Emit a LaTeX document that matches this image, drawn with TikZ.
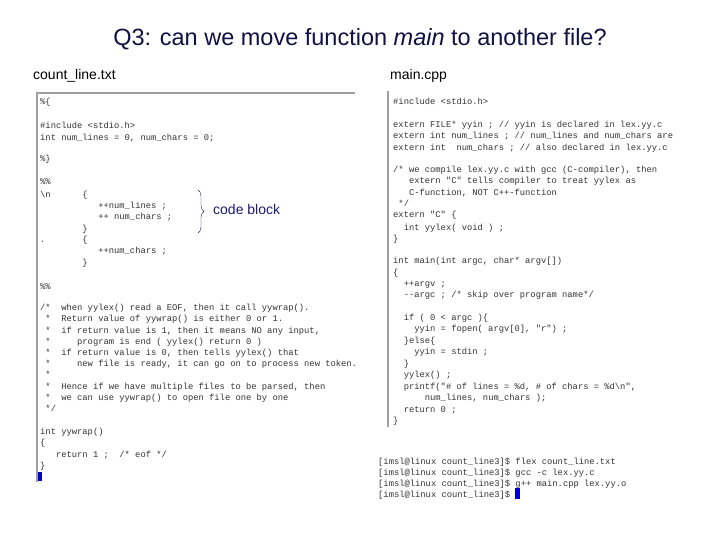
\documentclass[tikz,border=0pt]{standalone}
\usepackage{fontspec}
\setmainfont{Liberation Sans}
\newfontfamily\codef{Liberation Mono}
\usetikzlibrary{decorations.pathreplacing}
\definecolor{codec}{HTML}{333333}
\definecolor{navy}{HTML}{1A1A6E}
\definecolor{panel}{HTML}{A0A0A0}
\newcommand\cl[4]{\node[codetxt] (#1) at (#2,#3) {#4};}
\begin{document}
\begin{tikzpicture}[x=1pt,y=-1pt,
  codetxt/.style={anchor=base west,inner sep=0pt,font=\codef\fontsize{8.8}{10}\selectfont,text=codec},
  lbl/.style={anchor=base west,inner sep=0pt,font=\fontsize{14}{16}\selectfont}]
\useasboundingbox (0,0) rectangle (720,540);
\node[font=\fontsize{23.5}{26}\selectfont,anchor=base,text=navy!60!black] (title) at (360,46) {Q3: can we move function \textit{main} to another file?};
\node[lbl] (ln) at (33,80) {count\_line.txt};
\node[lbl] (rn) at (390,80) {main.cpp};
\draw[panel,line width=1.5pt] (37,482) -- (37,93) -- (355,93);
\draw[panel,line width=1.5pt] (388,91) -- (388,427);
\fill[blue!80!black] (38,472) rectangle (42,481);
\fill[blue!80!black] (515,488) rectangle (520,499);
% left
\cl{a1}{40}{105}{\%\{}
\cl{a2}{40}{129}{\#include <stdio.h>}
\cl{a3}{40}{141}{int num\_lines = 0, num\_chars = 0;}
\cl{a4}{40}{162}{\%\}}
\cl{a5}{40}{185}{\%\%}
\cl{a6}{40}{197}{\textbackslash n~~~~~~\{}
\cl{a7}{40}{209}{~~~~~~~~~~~++num\_lines ;}
\cl{a8}{40}{220}{~~~~~~~~~~~++ num\_chars ;}
\cl{a9}{40}{232}{~~~~~~~~\}}
\cl{a10}{40}{243}{.~~~~~~~\{}
\cl{a11}{40}{254}{~~~~~~~~~~~++num\_chars ;}
\cl{a12}{40}{265}{~~~~~~~~\}}
\cl{a13}{40}{289}{\%\%}
\cl{a14}{40}{310}{/*~~when yylex() read a EOF, then it call yywrap().}
\cl{a15}{40}{321}{~*~~Return value of yywrap() is either 0 or 1.}
\cl{a16}{40}{333}{~*~~if return value is 1, then it means NO any input,}
\cl{a17}{40}{344}{~*~~~~~program is end ( yylex() return 0 )}
\cl{a18}{40}{355}{~*~~if return value is 0, then tells yylex() that}
\cl{a19}{40}{366}{~*~~~~~new file is ready, it can go on to process new token.}
\cl{a20}{40}{377}{~*}
\cl{a21}{40}{389}{~*~~Hence if we have multiple files to be parsed, then}
\cl{a22}{40}{400}{~*~~we can use yywrap() to open file one by one}
\cl{a23}{40}{411}{~*/}
\cl{a24}{40}{434}{int yywrap()}
\cl{a25}{40}{445}{\{}
\cl{a26}{40}{457}{~~~return 1 ;~~/* eof */}
\cl{a27}{40}{468}{\}}
% brace
\coordinate (bt) at (198,190);
\coordinate (bb) at (198,233);
\draw[navy,decorate,decoration={brace,amplitude=6pt}] (bt) -- (bb);
\node[lbl,anchor=west,text=navy] (cb) at (213,209) {code block};
% right
\cl{b1}{393}{105}{\#include <stdio.h>}
\cl{b2}{393}{128}{extern FILE* yyin ; // yyin is declared in lex.yy.c}
\cl{b3}{393}{139}{extern int num\_lines ; // num\_lines and num\_chars are}
\cl{b4}{393}{151}{extern int~~num\_chars ; // also declared in lex.yy.c}
\cl{b5}{393}{173}{/* we compile lex.yy.c with gcc (C-compiler), then}
\cl{b6}{393}{184}{~~~extern "C" tells compiler to treat yylex as}
\cl{b7}{393}{196}{~~~C-function, NOT C++-function}
\cl{b8}{393}{207}{~*/}
\cl{b9}{393}{218}{extern "C" \{}
\cl{b10}{393}{230}{~~int yylex( void ) ;}
\cl{b11}{393}{241}{\}}
\cl{b12}{393}{263}{int main(int argc, char* argv[])}
\cl{b13}{393}{275}{\{}
\cl{b14}{393}{286}{~~++argv ;}
\cl{b15}{393}{297}{~~--argc ; /* skip over program name*/}
\cl{b16}{393}{320}{~~if ( 0 < argc )\{}
\cl{b17}{393}{331}{~~~~yyin = fopen( argv[0], "r") ;}
\cl{b18}{393}{343}{~~\}else\{}
\cl{b19}{393}{354}{~~~~yyin = stdin ;}
\cl{b20}{393}{366}{~~\}}
\cl{b21}{393}{377}{~~yylex() ;}
\cl{b22}{393}{389}{~~printf("\# of lines = \%d, \# of chars = \%d\textbackslash n",}
\cl{b23}{393}{400}{~~~~~~num\_lines, num\_chars );}
\cl{b24}{393}{412}{~~return 0 ;}
\cl{b25}{393}{423}{\}}
% terminal
\cl{c1}{378}{464}{[imsl@linux count\_line3]\$ flex count\_line.txt}
\cl{c2}{378}{475}{[imsl@linux count\_line3]\$ gcc -c lex.yy.c}
\cl{c3}{378}{486}{[imsl@linux count\_line3]\$ g++ main.cpp lex.yy.o}
\cl{c4}{378}{497}{[imsl@linux count\_line3]\$}
\end{tikzpicture}
\end{document}
